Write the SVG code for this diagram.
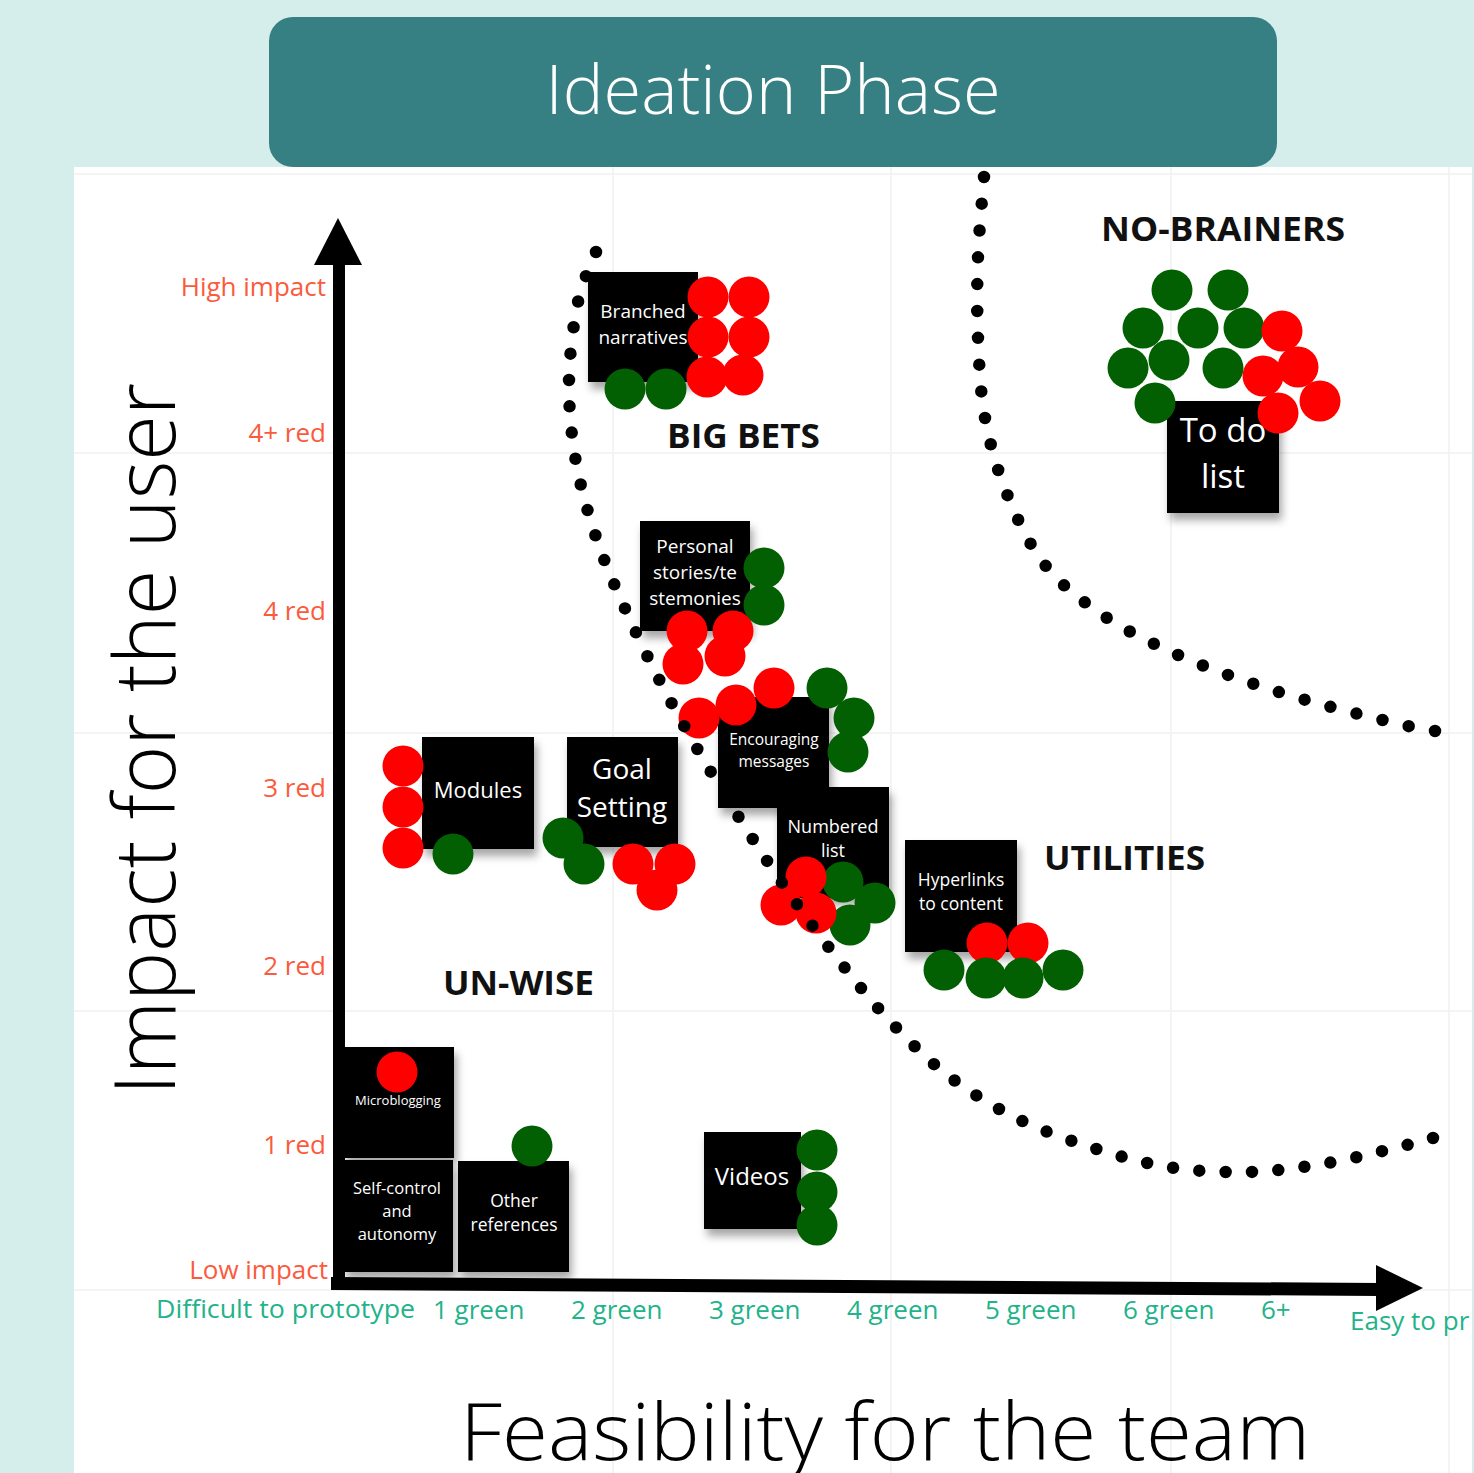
<svg xmlns="http://www.w3.org/2000/svg" width="1474" height="1473" viewBox="0 0 1474 1473">
<defs>
<filter id="sh" x="-20%" y="-20%" width="150%" height="150%">
<feDropShadow dx="3" dy="7" stdDeviation="4" flood-color="#000" flood-opacity="0.35"/>
</filter>
<style>
text{font-family:'Open Sans','Noto Sans','Liberation Sans',sans-serif}
.note rect{fill:#030303;filter:url(#sh)}
.nt{fill:#fff;text-anchor:middle}
.r{fill:#ff0000}
.g{fill:#026002}
.ylab{font-size:26px;fill:#fb5a3c;text-anchor:end}
.xlab{font-size:26px;fill:#22b38a}
.zone{font-weight:700;font-size:34px;fill:#111}
.grid{stroke:#f1f1f1;stroke-width:1.5;fill:none}
.dots{fill:none;stroke:#000;stroke-width:12.5;stroke-linecap:round;stroke-dasharray:0 1}
.axis{fill:#000}
</style>
</defs>
<rect width="1474" height="1473" fill="#d5eeeb"/>
<rect x="74" y="167" width="1398" height="1306" fill="#fff"/>
<g id="grid" class="grid">
<path d="M74,174H1472M74,453H1472M74,733H1472M74,1011H1472M74,1290H1472"/>
<path d="M613,167V1473M891,167V1473M1171,167V1473M1449,167V1473"/>
</g>
<g id="header">
<rect x="269" y="17" width="1008" height="150" rx="24" fill="#367f82"/>
<text x="773" y="114" font-size="68" font-weight="300" fill="#fff" text-anchor="middle" textLength="455" lengthAdjust="spacingAndGlyphs">Ideation Phase</text>
</g>
<g id="axes">
<rect class="axis" x="333" y="255" width="12" height="1035"/>
<polygon class="axis" points="338,218 314,265 362,265"/>
<polygon class="axis" points="331,1277 1380,1283 1380,1296 331,1290"/>
<polygon class="axis" points="1376,1265 1423,1288 1376,1311"/>
<text transform="translate(175,739) rotate(-90)" font-size="84" font-weight="300" fill="#000" text-anchor="middle" textLength="712" lengthAdjust="spacingAndGlyphs">Impact for the user</text>
<text x="885" y="1460" font-size="79" font-weight="300" fill="#000" text-anchor="middle" textLength="850" lengthAdjust="spacingAndGlyphs">Feasibility for the team</text>
</g>
<g id="y-labels" class="ylab">
<text x="326" y="296">High impact</text>
<text x="326" y="442">4+ red</text>
<text x="326" y="620">4 red</text>
<text x="326" y="797">3 red</text>
<text x="326" y="975">2 red</text>
<text x="326" y="1154">1 red</text>
<text x="328" y="1279">Low impact</text>
</g>
<g id="x-labels" class="xlab">
<text x="156" y="1318" textLength="259" lengthAdjust="spacingAndGlyphs">Difficult to prototype</text>
<text x="433" y="1319">1 green</text>
<text x="571" y="1319">2 green</text>
<text x="709" y="1319">3 green</text>
<text x="847" y="1319">4 green</text>
<text x="985" y="1319">5 green</text>
<text x="1123" y="1319">6 green</text>
<text x="1261" y="1319">6+</text>
<text x="1350" y="1330">Easy to pr</text>
</g>
<g id="zones" class="zone">
<text x="667" y="448" textLength="153" lengthAdjust="spacingAndGlyphs">BIG BETS</text>
<text x="1101" y="241" textLength="244" lengthAdjust="spacingAndGlyphs">NO-BRAINERS</text>
<text x="1044" y="870" textLength="161" lengthAdjust="spacingAndGlyphs">UTILITIES</text>
<text x="443" y="995" textLength="151" lengthAdjust="spacingAndGlyphs">UN-WISE</text>
</g>
<g id="n-branched" class="note">
<rect x="588" y="272" width="110" height="110"/>
<text class="nt" x="643" y="318" font-size="19">Branched</text>
<text class="nt" x="643" y="344" font-size="19">narratives</text>
<circle class="g" cx="625" cy="389" r="20.5"/><circle class="g" cx="666" cy="389" r="20.5"/>
<circle class="r" cx="708" cy="297" r="20.5"/><circle class="r" cx="749" cy="297" r="20.5"/>
<circle class="r" cx="708" cy="337" r="20.5"/><circle class="r" cx="749" cy="337" r="20.5"/>
<circle class="r" cx="707" cy="377" r="20.5"/><circle class="r" cx="743" cy="375" r="20.5"/>
</g>
<g id="n-todo" class="note">
<rect x="1167" y="401" width="112" height="112"/>
<circle class="g" cx="1172" cy="290" r="20.5"/><circle class="g" cx="1228" cy="290" r="20.5"/>
<circle class="g" cx="1143" cy="328" r="20.5"/><circle class="g" cx="1198" cy="328" r="20.5"/>
<circle class="g" cx="1244" cy="328" r="20.5"/><circle class="g" cx="1128" cy="368" r="20.5"/>
<circle class="g" cx="1169" cy="360" r="20.5"/><circle class="g" cx="1223" cy="368" r="20.5"/>
<circle class="g" cx="1155" cy="403" r="20.5"/>
<circle class="r" cx="1282" cy="331" r="20.5"/><circle class="r" cx="1298" cy="367" r="20.5"/>
<circle class="r" cx="1263" cy="376" r="20.5"/><circle class="r" cx="1320" cy="401" r="20.5"/>
<circle class="r" cx="1278" cy="413" r="20.5"/>
<text class="nt" x="1223" y="442" font-size="33">To do</text>
<text class="nt" x="1223" y="488" font-size="33">list</text>
</g>
<g id="n-personal" class="note">
<rect x="640" y="521" width="110" height="110"/>
<text class="nt" x="695" y="553" font-size="19">Personal</text>
<text class="nt" x="695" y="579" font-size="19">stories/te</text>
<text class="nt" x="695" y="605" font-size="19">stemonies</text>
<circle class="g" cx="764" cy="568" r="20.5"/><circle class="g" cx="764" cy="605" r="20.5"/>
<circle class="r" cx="687" cy="631" r="20.5"/><circle class="r" cx="733" cy="631" r="20.5"/>
<circle class="r" cx="683" cy="664" r="20.5"/><circle class="r" cx="725" cy="656" r="20.5"/>
</g>
<g id="n-encouraging" class="note">
<rect x="718" y="697" width="111" height="111"/>
<text class="nt" x="774" y="745" font-size="15.5">Encouraging</text>
<text class="nt" x="774" y="767" font-size="15.5">messages</text>
<circle class="r" cx="699" cy="718" r="20.5"/><circle class="r" cx="736" cy="705" r="20.5"/>
<circle class="r" cx="774" cy="688" r="20.5"/>
<circle class="g" cx="827" cy="688" r="20.5"/><circle class="g" cx="854" cy="718" r="20.5"/>
<circle class="g" cx="848" cy="752" r="20.5"/>
</g>
<g id="n-numbered" class="note">
<rect x="777" y="787" width="112" height="111"/>
<text class="nt" x="833" y="833" font-size="18">Numbered</text>
<text class="nt" x="833" y="857" font-size="18">list</text>
<circle class="g" cx="843" cy="882" r="20.5"/><circle class="g" cx="875" cy="903" r="20.5"/>
<circle class="g" cx="850" cy="925" r="20.5"/>
<circle class="r" cx="806" cy="877" r="20.5"/><circle class="r" cx="781" cy="905" r="20.5"/>
<circle class="r" cx="816" cy="913" r="20.5"/>
</g>
<g id="n-hyperlinks" class="note">
<rect x="905" y="840" width="112" height="112"/>
<text class="nt" x="961" y="886" font-size="17.5">Hyperlinks</text>
<text class="nt" x="961" y="910" font-size="17.5">to content</text>
<circle class="r" cx="987" cy="943" r="20.5"/><circle class="r" cx="1028" cy="943" r="20.5"/>
<circle class="g" cx="944" cy="970" r="20.5"/><circle class="g" cx="986" cy="978" r="20.5"/>
<circle class="g" cx="1023" cy="978" r="20.5"/><circle class="g" cx="1063" cy="970" r="20.5"/>
</g>
<g id="n-modules" class="note">
<rect x="422" y="737" width="112" height="112"/>
<text class="nt" x="478" y="798" font-size="22">Modules</text>
<circle class="r" cx="403" cy="766" r="20.5"/><circle class="r" cx="403" cy="807" r="20.5"/>
<circle class="r" cx="403" cy="848" r="20.5"/>
<circle class="g" cx="453" cy="854" r="20.5"/>
</g>
<g id="n-goal" class="note">
<rect x="567" y="737" width="111" height="110"/>
<text class="nt" x="622" y="779" font-size="28">Goal</text>
<text class="nt" x="622" y="817" font-size="28">Setting</text>
<circle class="g" cx="563" cy="838" r="20.5"/><circle class="g" cx="584" cy="864" r="20.5"/>
<circle class="r" cx="633" cy="864" r="20.5"/><circle class="r" cx="675" cy="864" r="20.5"/>
<circle class="r" cx="657" cy="890" r="20.5"/>
</g>
<g id="n-microblogging" class="note">
<rect x="343" y="1047" width="111" height="111"/>
<circle class="r" cx="397" cy="1072" r="20.5"/>
<text class="nt" x="398" y="1105" font-size="13">Microblogging</text>
</g>
<g id="n-selfcontrol" class="note">
<rect x="343" y="1160" width="110" height="112"/>
<text class="nt" x="397" y="1194" font-size="16.5">Self-control</text>
<text class="nt" x="397" y="1217" font-size="16.5">and</text>
<text class="nt" x="397" y="1240" font-size="16.5">autonomy</text>
</g>
<g id="n-other" class="note">
<rect x="458" y="1161" width="111" height="111"/>
<text class="nt" x="514" y="1207" font-size="17.5">Other</text>
<text class="nt" x="514" y="1231" font-size="17.5">references</text>
<circle class="g" cx="532" cy="1146" r="20.5"/>
</g>
<g id="n-videos" class="note">
<rect x="704" y="1132" width="97" height="97"/>
<text class="nt" x="752" y="1185" font-size="24">Videos</text>
<circle class="g" cx="817" cy="1150" r="20.5"/><circle class="g" cx="817" cy="1192" r="20.5"/>
<circle class="g" cx="817" cy="1225" r="20.5"/>
</g>
<g id="boundaries" class="dots">
<path pathLength="55" d="M596,252 C593,260 582.5,280.5 578,302 C573.5,323.5 569.3,354.3 569,381 C568.7,407.7 571.3,435.5 576,462 C580.7,488.5 588.5,514.8 597,540 C605.5,565.2 616,588.5 627,613 C638,637.5 650.5,663 663,687 C675.5,711 688.3,733.7 702,757 C715.7,780.3 730.5,804.3 745,827 C759.5,849.7 773.7,871.2 789,893 C804.3,914.8 820.5,937 837,958 C853.5,979 869.8,999.7 888,1019 C906.2,1038.3 925,1057.7 946,1074 C967,1090.3 990,1104.8 1014,1117 C1038,1129.2 1064.3,1138.7 1090,1147 C1115.7,1155.3 1141.5,1162.8 1168,1167 C1194.5,1171.2 1222.3,1172.7 1249,1172 C1275.7,1171.3 1301.7,1167.5 1328,1163 C1354.3,1158.5 1389.5,1149.2 1407,1145 C1424.5,1140.8 1428.7,1139.2 1433,1138"/>
<path pathLength="31" d="M984,177 C983,190.3 979,230.2 978,257 C977,283.8 976.8,311.2 978,338 C979.2,364.8 980.2,392 985,418 C989.8,444 997,469.5 1007,494 C1017,518.5 1028.8,544.7 1045,565 C1061.2,585.3 1081.8,601 1104,616 C1126.2,631 1153,643.7 1178,655 C1203,666.3 1228.5,675.3 1254,684 C1279.5,692.7 1305.3,700 1331,707 C1356.7,714 1390.7,722 1408,726 C1425.3,730 1430.5,730.2 1435,731"/>
</g>
</svg>
